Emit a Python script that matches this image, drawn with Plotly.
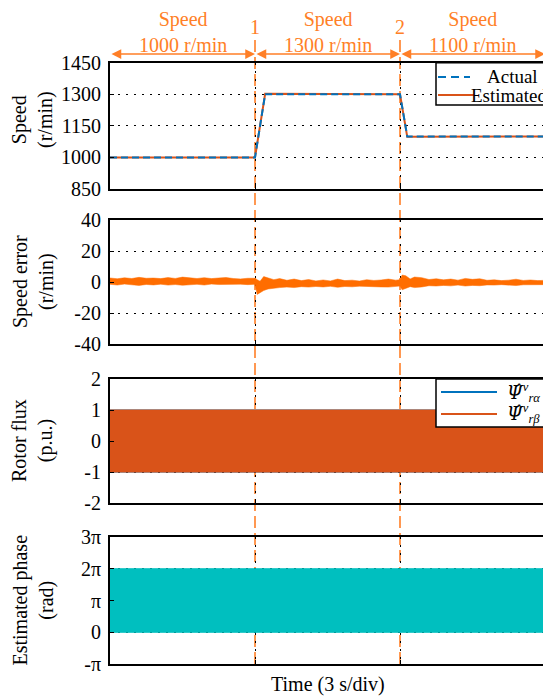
import math
import plotly.graph_objects as go

# ---------------- data ----------------
# speed step test: 1000 -> 1300 -> 1100 r/min
speed_t = [0.0, 10.0, 10.7, 20.0, 20.5, 30.0]
speed_actual = [1000, 1000, 1300, 1300, 1100, 1100]
speed_est = [1000, 1000, 1302, 1300, 1098, 1100]

# speed error envelope (r/min)
err_t = [0.0, 0.5, 1.0, 1.5, 2.0, 2.5, 3.0, 3.5, 4.0, 4.5,
         5.0, 5.5, 6.0, 6.5, 7.0, 7.5, 8.0, 8.5, 9.0, 9.5,
         10.0, 10.15, 10.35, 10.6, 10.9, 11.3, 11.7, 12.2, 12.7, 13.2,
         13.7, 14.2, 14.7, 15.2, 15.7, 16.2, 16.7, 17.2, 17.7, 18.2,
         18.7, 19.2, 19.7, 20.0, 20.15, 20.4, 20.7, 21.0, 21.5, 22.0,
         22.5, 23.0, 23.5, 24.0, 24.5, 25.0, 25.5, 26.0, 26.5, 27.0,
         27.5, 28.0, 28.5, 29.0, 29.5, 30.0]
err_upper = [2.6, 2.1, 2.7, 2.25, 3.0, 2.4, 2.55, 2.2, 2.85, 2.3,
             3.15, 2.5, 2.25, 2.8, 2.2, 2.6, 2.9, 2.25, 2.0, 2.4,
             2.4, 1.5, 0.5, 3.5, 2.8, 1.5, 2.2, 1.1, 1.9, 0.9,
             1.6, 0.7, 1.3, 0.7, 1.9, 0.9, 1.2, 0.6, 1.5, 1.0,
             1.3, 1.9, 1.2, 1.5, 4.5, 4.0, 2.0, 3.2, 2.8, 1.6,
             2.1, 1.4, 1.9, 1.2, 2.3, 1.7, 2.1, 1.1, 1.4, 0.9,
             1.2, 1.8, 1.0, 1.3, 0.9, 1.1]
err_lower = [-1.5, -1.95, -1.35, -1.8, -2.2, -1.6, -1.9, -1.4, -2.0, -1.65,
             -2.1, -1.7, -1.5, -1.95, -1.35, -1.65, -1.9, -1.5, -1.4, -1.7,
             -1.5, -8.0, -7.0, -5.5, -4.5, -4.0, -3.6, -3.3, -3.6, -3.0,
             -3.3, -2.9, -3.2, -2.8, -3.4, -2.9, -3.1, -2.7, -3.0, -2.9,
             -3.2, -3.3, -3.0, -2.6, -5.0, -4.2, -3.0, -3.6, -3.2, -2.4,
             -2.6, -2.2, -2.5, -2.0, -2.6, -2.2, -2.4, -1.9, -2.0, -1.7,
             -1.9, -2.3, -1.8, -1.8, -1.6, -1.7]

# rotor flux envelopes (p.u.)
flux_t = [0.0, 30.0]
flux_alpha_hi = [1.0, 1.0]
flux_alpha_lo = [-1.0, -1.0]
flux_beta_hi = [1.0, 1.0]
flux_beta_lo = [-1.0, -1.0]

# estimated phase envelope (rad)
phase_t = [0.0, 30.0]
phase_hi = [2 * math.pi, 2 * math.pi]
phase_lo = [0.0, 0.0]

event_times = [10.0, 20.0]
event_labels = ["1", "2"]
seg_start = [0.0, 10.0, 20.0]
seg_end = [10.0, 20.0, 30.0]
seg_text = ["1000 r/min", "1300 r/min", "1100 r/min"]

speed_ticks = [850, 1000, 1150, 1300, 1450]
speed_ticktext = ["850", "1000", "1150", "1300", "1450"]
err_ticks = [-40, -20, 0, 20, 40]
err_ticktext = ["-40", "-20", "0", "20", "40"]
flux_ticks = [-2, -1, 0, 1, 2]
flux_ticktext = ["-2", "-1", "0", "1", "2"]
phase_ticks = [-math.pi, 0, math.pi, 2 * math.pi, 3 * math.pi]
phase_ticktext = ["-π", "0", "π", "2π", "3π"]

# ---------------- layout constants ----------------
W, H = 543, 698
ML = 110
PW = W - ML
XMAX = 30.0 * PW / 435.0
FONT = "Liberation Serif, Times New Roman, serif"
C_BLUE = "#0072BD"
C_RED = "#D95319"
C_ERR = "#FF6D00"
C_EVT = "#FF7F27"
C_TEAL = "#00BFBF"

panels = [(62.7, 189.0), (220.0, 344.0), (379.0, 503.0), (537.0, 664.0)]


def py(p):
    return 1 - p / H


def px(p):
    return (p - ML) / PW


def band(t, hi, lo):
    return list(t) + list(t)[::-1], list(hi) + list(lo)[::-1]


fig = go.Figure()

fig.add_trace(go.Scatter(x=speed_t, y=speed_est, mode="lines", name="Estimated",
                         line=dict(color=C_RED, width=2), xaxis="x", yaxis="y"))
fig.add_trace(go.Scatter(x=speed_t, y=speed_actual, mode="lines", name="Actual",
                         line=dict(color=C_BLUE, width=2, dash="7px,4px"), xaxis="x", yaxis="y"))

bx, by = band(err_t, err_upper, err_lower)
fig.add_trace(go.Scatter(x=bx, y=by, mode="lines", fill="toself", fillcolor=C_ERR,
                         line=dict(color=C_ERR, width=0.5), name="Speed error",
                         xaxis="x2", yaxis="y2"))

bx, by = band(flux_t, flux_alpha_hi, flux_alpha_lo)
fig.add_trace(go.Scatter(x=bx, y=by, mode="lines", fill="toself", fillcolor=C_BLUE,
                         line=dict(color=C_BLUE, width=1), name="Ψ_rα",
                         xaxis="x3", yaxis="y3"))
bx, by = band(flux_t, flux_beta_hi, flux_beta_lo)
fig.add_trace(go.Scatter(x=bx, y=by, mode="lines", fill="toself", fillcolor=C_RED,
                         line=dict(color=C_RED, width=1), name="Ψ_rβ",
                         xaxis="x3", yaxis="y3"))

bx, by = band(phase_t, phase_hi, phase_lo)
fig.add_trace(go.Scatter(x=bx, y=by, mode="lines", fill="toself", fillcolor=C_TEAL,
                         line=dict(color=C_TEAL, width=1), name="Phase",
                         xaxis="x4", yaxis="y4"))

tickfont = dict(family=FONT, size=20, color="black")
grid = dict(showgrid=True, gridcolor="black", gridwidth=1, griddash="2px,6px")

layout = dict(
    width=W, height=H,
    margin=dict(l=ML, r=0, t=0, b=0, autoexpand=False),
    paper_bgcolor="white", plot_bgcolor="white",
    showlegend=False,
    font=dict(family=FONT, size=20, color="black"),
)

yranges = [(850, 1450), (-40, 40), (-2, 2), (-math.pi, 3 * math.pi)]
yticks = [speed_ticks, err_ticks, flux_ticks, phase_ticks]
yticktext = [speed_ticktext, err_ticktext, flux_ticktext, phase_ticktext]

for i, (top, bot) in enumerate(panels):
    sfx = "" if i == 0 else str(i + 1)
    layout["xaxis" + sfx] = dict(
        domain=[0, 1], anchor="y" + sfx, range=[0, XMAX],
        tickvals=event_times, showticklabels=False, ticks="inside", ticklen=4,
        tickcolor="black", showline=True, mirror=True, linecolor="black",
        linewidth=2, zeroline=False, automargin=False, **grid)
    layout["yaxis" + sfx] = dict(
        domain=[py(bot), py(top)], anchor="x" + sfx, range=list(yranges[i]),
        tickvals=yticks[i], ticktext=yticktext[i], ticks="inside", ticklen=4,
        tickcolor="black", tickfont=tickfont, showline=True, mirror=False,
        linecolor="black", linewidth=2, zeroline=False, automargin=False,
        ticklabelstandoff=3, **grid)

fig.update_layout(**layout)

# event markers spanning all panels
for t in event_times:
    fig.add_shape(type="line", xref="x", yref="paper", x0=t, x1=t,
                  y0=py(664), y1=py(35), layer="below",
                  line=dict(color=C_EVT, width=1.6, dash="12px,5px"))

ann = []
for t, lab in zip(event_times, event_labels):
    ann.append(dict(x=t, xref="x", y=py(27), yref="paper", text=lab,
                    showarrow=False, font=dict(family=FONT, size=20, color=C_EVT),
                    xanchor="center", yanchor="middle"))

for s, e, txt in zip(seg_start, seg_end, seg_text):
    ann.append(dict(x=(s + e) / 2, xref="x", y=py(32.5), yref="paper",
                    text="Speed<br>" + txt, showarrow=False,
                    font=dict(family=FONT, size=20, color=C_EVT),
                    xanchor="center", yanchor="middle"))
    ann.append(dict(x=e, xref="x", y=py(54), yref="paper", ax=s, axref="x",
                    ay=0, ayref="pixel", text="", showarrow=True,
                    arrowhead=2, startarrowhead=2, arrowside="end+start",
                    arrowsize=1.3, startarrowsize=1.3, arrowwidth=1.5,
                    arrowcolor=C_EVT, standoff=0, startstandoff=0))

# y-axis titles
ytitles = ["Speed<br>(r/min)", "Speed error<br>(r/min)", "Rotor flux<br>(p.u.)",
           "Estimated phase<br>(rad)"]
ycent = [120, 282, 441, 600.5]
for t, yc in zip(ytitles, ycent):
    ann.append(dict(x=px(33), xref="paper", y=py(yc), yref="paper", text=t,
                    textangle=-90, showarrow=False, xanchor="center", yanchor="middle",
                    font=dict(family=FONT, size=20, color="black")))

ann.append(dict(x=px(328), xref="paper", y=py(684), yref="paper",
                text="Time (3 s/div)", showarrow=False, xanchor="center",
                yanchor="middle", font=dict(family=FONT, size=20, color="black")))

# legend boxes for the speed and flux panels
shapes = [
    dict(type="rect", xref="paper", yref="paper", x0=px(436), x1=px(600),
         y0=py(105), y1=py(62.7), fillcolor="white", line=dict(color="black", width=1.5),
         layer="above"),
    dict(type="line", xref="paper", yref="paper", x0=px(438), x1=px(470),
         y0=py(77), y1=py(77), line=dict(color=C_BLUE, width=2, dash="8px,5px"),
         layer="above"),
    dict(type="line", xref="paper", yref="paper", x0=px(438), x1=px(474),
         y0=py(95), y1=py(95), line=dict(color=C_RED, width=2), layer="above"),
    dict(type="rect", xref="paper", yref="paper", x0=px(436), x1=px(600),
         y0=py(427), y1=py(379), fillcolor="white", line=dict(color="black", width=1.5),
         layer="above"),
    dict(type="line", xref="paper", yref="paper", x0=px(441), x1=px(497),
         y0=py(392), y1=py(392), line=dict(color=C_BLUE, width=2), layer="above"),
    dict(type="line", xref="paper", yref="paper", x0=px(441), x1=px(497),
         y0=py(414), y1=py(414), line=dict(color=C_RED, width=2), layer="above"),
]
for s in shapes:
    fig.add_shape(**s)

leg_font = dict(family=FONT, size=19, color="black")
ann.append(dict(x=px(485), xref="paper", y=py(76), yref="paper", text="Actual",
                showarrow=False, xanchor="left", yanchor="middle", font=leg_font))
ann.append(dict(x=px(469), xref="paper", y=py(96), yref="paper", text="Estimated",
                showarrow=False, xanchor="left", yanchor="middle", font=leg_font))
psi_hat = "<span style='font-family:DejaVu Serif'><i>Ψ̂</i></span>"
for yrow, sub in [(392, "rα"), (413, "rβ")]:
    ann.append(dict(x=px(505), xref="paper", y=py(yrow), yref="paper",
                    text=psi_hat + "<sup><i>v</i></sup><sub><i>" + sub + "</i></sub>",
                    showarrow=False, xanchor="left", yanchor="middle",
                    font=dict(family=FONT, size=18, color="black")))

fig.update_layout(annotations=ann)
fig.write_html("out.html")
